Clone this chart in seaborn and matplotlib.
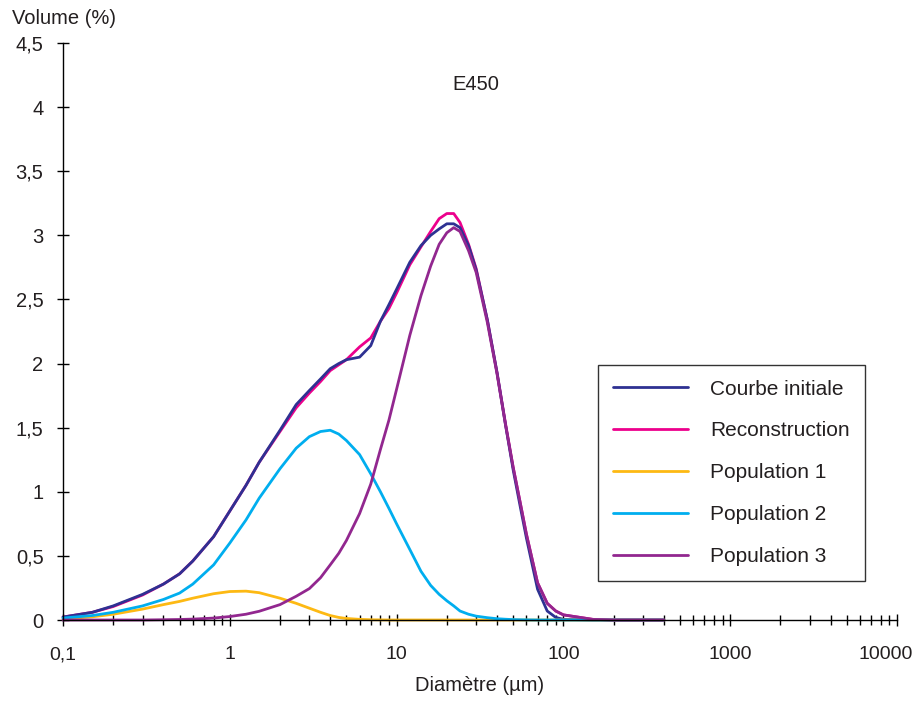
import pandas as pd
import seaborn as sns
import matplotlib
matplotlib.use("Agg")
import matplotlib.pyplot as plt
import matplotlib.transforms as mtransforms
from matplotlib.ticker import NullFormatter, LogLocator

# diametre (um) et volumes (%)
diam = [0.1, 0.15, 0.2, 0.3, 0.4, 0.5, 0.6, 0.8, 1, 1.25, 1.5, 2, 2.5, 3, 3.5, 4, 4.5, 5, 6, 7,
        8, 9, 10, 12, 14, 16, 18, 20, 22, 24, 27, 30, 35, 40, 45, 50, 55, 60, 70, 80, 90, 100,
        150, 200, 300, 400]

pop1 = [0.008, 0.025, 0.045, 0.085, 0.12, 0.145, 0.17, 0.205, 0.222, 0.225, 0.213, 0.17, 0.13,
        0.092, 0.06, 0.035, 0.02, 0.012, 0.005, 0.002, 0.001, 0, 0, 0, 0, 0, 0, 0, 0, 0, 0, 0,
        0, 0, 0, 0, 0, 0, 0, 0, 0, 0, 0, 0, 0, 0]
pop2 = [0.015, 0.035, 0.06, 0.11, 0.16, 0.21, 0.28, 0.43, 0.60, 0.78, 0.95, 1.18, 1.34, 1.43,
        1.47, 1.48, 1.45, 1.40, 1.29, 1.14, 1.0, 0.87, 0.75, 0.55, 0.38, 0.27, 0.20, 0.15, 0.11,
        0.07, 0.045, 0.03, 0.018, 0.01, 0.006, 0.003, 0.002, 0.001, 0, 0, 0, 0, 0, 0, 0, 0]
pop3 = [0, 0, 0, 0, 0.002, 0.004, 0.007, 0.015, 0.027, 0.045, 0.068, 0.12, 0.185, 0.245, 0.33,
        0.43, 0.52, 0.62, 0.83, 1.06, 1.33, 1.56, 1.80, 2.22, 2.53, 2.76, 2.93, 3.02, 3.06, 3.03,
        2.88, 2.71, 2.32, 1.92, 1.52, 1.19, 0.92, 0.67, 0.29, 0.13, 0.07, 0.04, 0.005, 0, 0, 0]
reconstruction = [0.023, 0.06, 0.105, 0.195, 0.28, 0.36, 0.46, 0.65, 0.85, 1.05, 1.23, 1.47,
                  1.655, 1.77, 1.86, 1.945, 1.99, 2.03, 2.13, 2.20, 2.33, 2.43, 2.55, 2.77, 2.91,
                  3.03, 3.13, 3.17, 3.17, 3.10, 2.93, 2.74, 2.34, 1.93, 1.53, 1.19, 0.92, 0.67,
                  0.29, 0.13, 0.07, 0.04, 0.005, 0, 0, 0]
initiale = [0.023, 0.06, 0.11, 0.2, 0.28, 0.36, 0.46, 0.65, 0.85, 1.05, 1.23, 1.48, 1.68, 1.79,
            1.88, 1.96, 2.0, 2.03, 2.05, 2.14, 2.33, 2.46, 2.58, 2.79, 2.92, 3.00, 3.05, 3.09,
            3.09, 3.06, 2.92, 2.73, 2.34, 1.93, 1.52, 1.17, 0.89, 0.64, 0.24, 0.07, 0.02, 0.005,
            0, 0, 0, 0]

series = {
    "Reconstruction": reconstruction,
    "Courbe initiale": initiale,
    "Population 1": pop1,
    "Population 2": pop2,
    "Population 3": pop3,
}
legend_order = ["Courbe initiale", "Reconstruction", "Population 1", "Population 2", "Population 3"]
colors = {
    "Courbe initiale": "#2E3192",
    "Reconstruction": "#EC008C",
    "Population 1": "#FDB913",
    "Population 2": "#00AEEF",
    "Population 3": "#92278F",
}

rows = []
for name, vals in series.items():
    for d, v in zip(diam, vals):
        rows.append({"Diametre": d, "Volume": v, "Courbe": name})
df = pd.DataFrame(rows)

sns.set_style("ticks")
plt.rcParams["font.family"] = ["Liberation Sans", "DejaVu Sans"]
txt = "#231F20"

fig = plt.figure(figsize=(9.2, 7.02), dpi=100)
ax = fig.add_axes([63 / 920, 1 - 620 / 702, (897 - 63) / 920, (620 - 43) / 702])

sns.lineplot(data=df, x="Diametre", y="Volume", hue="Courbe", hue_order=list(series.keys()),
             palette=colors, linewidth=2.0, errorbar=None, ax=ax, clip_on=False)

ax.set_xscale("log")
ax.set_xlim(0.1, 10000)
ax.set_ylim(0, 4.5)

ax.set_xticks([0.1, 1, 10, 100, 1000, 10000])
ax.set_xticklabels(["0,1", "1", "10", "100", "1000", "10000"])
ax.xaxis.set_minor_locator(LogLocator(base=10, subs=range(2, 10)))
ax.xaxis.set_minor_formatter(NullFormatter())
yt = [0, 0.5, 1, 1.5, 2, 2.5, 3, 3.5, 4, 4.5]
ax.set_yticks(yt)
ax.set_yticklabels([f"{v:g}".replace(".", ",") for v in yt])

ax.tick_params(axis="both", which="both", direction="inout", color="black", width=1.0,
               labelcolor=txt)
ax.tick_params(axis="x", which="major", length=8, pad=15, labelsize=14)
ax.tick_params(axis="x", which="minor", length=7)
ax.tick_params(axis="y", which="major", length=8, pad=10, labelsize=14.5)

# dernier label decale un peu a gauche comme sur l'original
last = ax.get_xticklabels()[-1]
last.set_transform(last.get_transform()
                   + mtransforms.ScaledTranslation(-0.11, 0, fig.dpi_scale_trans))

for s in ["top", "right"]:
    ax.spines[s].set_visible(False)
for s in ["left", "bottom"]:
    ax.spines[s].set_color("black")
    ax.spines[s].set_linewidth(1.0)

ax.set_xlabel("Diamètre (µm)", fontsize=14.5, color=txt, labelpad=9)
ax.set_ylabel("")
fig.text(12 / 920, 1 - 18 / 702, "Volume (%)", fontsize=14.5, color=txt,
         ha="left", va="center")
ax.text(30, 4.18, "E450", fontsize=14.5, color=txt, ha="center", va="center")

handles, labels = ax.get_legend_handles_labels()
hmap = dict(zip(labels, handles))
leg = ax.legend([hmap[k] for k in legend_order], legend_order, loc="upper left",
                bbox_to_anchor=(598 / 920, 1 - 365 / 702), bbox_transform=fig.transFigure,
                borderaxespad=0, fontsize=15, frameon=True, fancybox=False, shadow=False,
                handlelength=3.6, handletextpad=1.1, labelspacing=1.1, borderpad=0.7)
leg.get_frame().set_edgecolor("black")
leg.get_frame().set_linewidth(1.0)
for t in leg.get_texts():
    t.set_color(txt)

fig.savefig("out.png", dpi=100)
